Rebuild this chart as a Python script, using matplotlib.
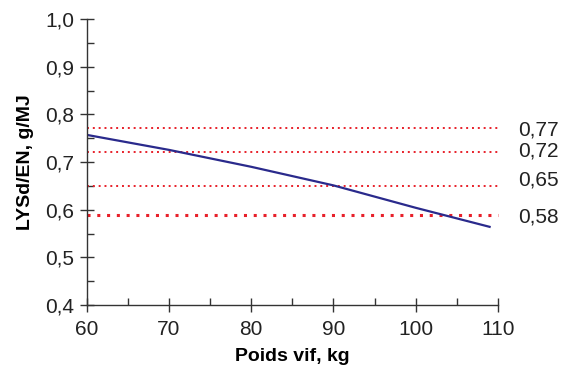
import numpy as np
import matplotlib.pyplot as plt
from matplotlib.ticker import MultipleLocator, FuncFormatter

plt.rcParams['font.family'] = ['Liberation Sans', 'DejaVu Sans']

poids = [60, 70, 80, 90, 100, 109]
lysd = [0.757, 0.7255, 0.690, 0.651, 0.604, 0.564]

seuils = [0.771, 0.722, 0.650, 0.589]
seuil_labels = ['0,77', '0,72', '0,65', '0,58']
label_y = [0.768, 0.724, 0.662, 0.584]

fig = plt.figure(figsize=(5.67, 3.67), dpi=100)
ax = fig.add_axes([0.153, 0.169, 0.725, 0.779])

for i, s in enumerate(seuils):
    lw = 2.2 if i == 3 else 1.4
    ax.plot([60, 110], [s, s], color='#e8202a', linestyle=(0, (1, 2.2)) if i == 3 else (0, (1, 2)),
            linewidth=lw, clip_on=False)
    ax.text(1.05, label_y[i], seuil_labels[i], transform=ax.get_yaxis_transform(),
            fontsize=15, va='center', ha='left', color='#222222')

ax.plot(poids, lysd, color='#2a2a8c', linewidth=1.6)

ax.set_xlim(60, 110)
ax.set_ylim(0.4, 1.0)
ax.xaxis.set_major_locator(MultipleLocator(10))
ax.xaxis.set_minor_locator(MultipleLocator(5))
ax.yaxis.set_major_locator(MultipleLocator(0.1))
ax.yaxis.set_minor_locator(MultipleLocator(0.05))
ax.yaxis.set_major_formatter(FuncFormatter(lambda v, p: f'{v:.1f}'.replace('.', ',')))

for s in ['top', 'right']:
    ax.spines[s].set_visible(False)
for s in ['left', 'bottom']:
    ax.spines[s].set_color('#333333')
    ax.spines[s].set_linewidth(1.0)

ax.tick_params(which='major', direction='inout', length=10, width=1, color='#333333',
               labelsize=15, labelcolor='#222222')
ax.tick_params(which='minor', direction='in', length=5, width=1, color='#333333')
ax.tick_params(axis='x', pad=6)
ax.tick_params(axis='y', pad=4)

ax.set_xlabel('Poids vif, kg', fontsize=14, fontweight='bold', labelpad=6)
ax.set_ylabel('LYSd/EN, g/MJ', fontsize=14, fontweight='bold', labelpad=8)

fig.savefig('out.png', dpi=100)
